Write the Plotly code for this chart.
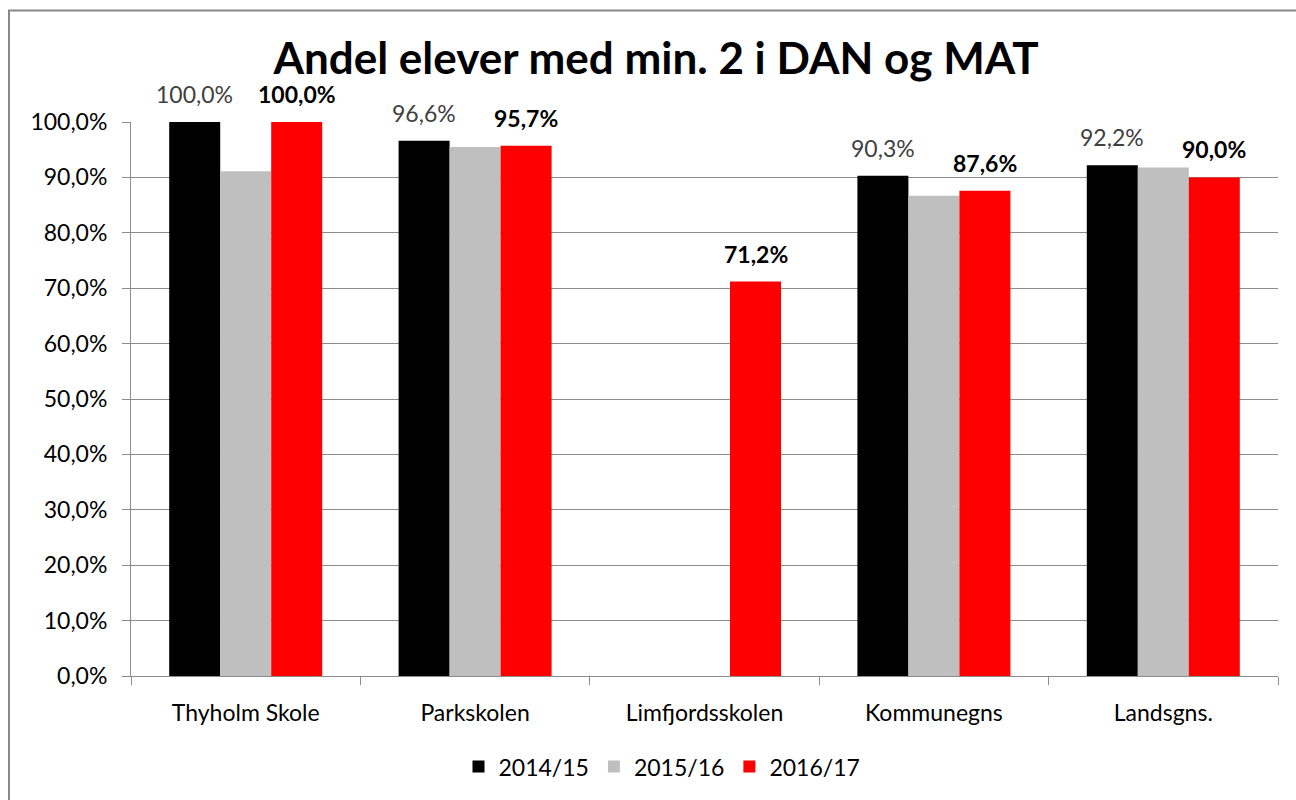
import plotly.graph_objects as go

categories = ["Thyholm Skole", "Parkskolen", "Limfjordsskolen", "Kommunegns", "Landsgns."]
series_names = ["2014/15", "2015/16", "2016/17"]
v_2014 = [100.0, 96.6, None, 90.3, 92.2]
v_2015 = [91.1, 95.5, None, 86.7, 91.8]
v_2016 = [100.0, 95.7, 71.2, 87.6, 90.0]
colors = ["#000000", "#BFBFBF", "#FF0000"]
y_ticks = [0, 10, 20, 30, 40, 50, 60, 70, 80, 90, 100]

FONT = "Lato"

def fmt(v):
    return f"{v:.1f}".replace(".", ",") + "%"

W, H = 1296, 800
L, R, T, B = 131, 18, 122, 122
pw, ph = W - L - R, H - T - B
BARGAP = 0.333
bar_px = pw / len(categories) * (1 - BARGAP) / 3

def px(x):
    return (x - L) / pw

def py(y):
    return (H - B - y) / ph

fig = go.Figure()
for name, vals, col in zip(series_names, [v_2014, v_2015, v_2016], colors):
    fig.add_bar(x=categories, y=vals, name=name, marker_color=col, marker_line_width=0)

annotations = []
label_series = [(0, v_2014, "#404040", False), (2, v_2016, "#000000", True)]
for idx, vals, col, bold in label_series:
    for cat, v in zip(categories, vals):
        if v is None:
            continue
        txt = f"<b>{fmt(v)}</b>" if bold else fmt(v)
        annotations.append(dict(x=cat, y=v, xref="x", yref="y", text=txt, showarrow=False,
                                xanchor="center", yanchor="bottom",
                                xshift=(idx - 1) * bar_px, yshift=12,
                                font=dict(family=FONT, size=23, color=col)))

fig.update_layout(
    width=W, height=H,
    margin=dict(l=L, r=R, t=T, b=B),
    paper_bgcolor="white", plot_bgcolor="white",
    separators=",.",
    barmode="group", bargap=BARGAP, bargroupgap=0,
    font=dict(family=FONT, size=23, color="#000000"),
    title=dict(text="<b>Andel elever med min. 2 i DAN og MAT</b>",
               x=656 / W, xanchor="center", xref="container",
               y=1 - 59 / H, yanchor="middle", yref="container",
               font=dict(family=FONT, size=44, color="#000000")),
    legend=dict(orientation="h", x=(662 - L) / pw, xanchor="center", xref="paper",
                y=py(769), yanchor="middle", font=dict(family=FONT, size=23, color="#000000"),
                itemwidth=30, traceorder="normal"),
    annotations=annotations,
    shapes=[dict(type="rect", xref="paper", yref="paper",
                 x0=px(9), x1=px(1320), y0=py(10), y1=py(830),
                 line=dict(color="#888888", width=2), layer="below")],
)
fig.update_yaxes(range=[0, 100], tickvals=y_ticks, ticktext=[fmt(t) for t in y_ticks],
                 showgrid=True, gridcolor="#8c8c8c", gridwidth=1,
                 showline=True, linecolor="#8c8c8c", linewidth=1,
                 ticks="outside", ticklen=8, tickcolor="#8c8c8c", ticklabelstandoff=10,
                 tickfont=dict(family=FONT, size=23, color="#000000"), zeroline=False)
fig.update_xaxes(showline=True, linecolor="#8c8c8c", linewidth=1,
                 ticks="outside", tickson="boundaries", ticklen=8, tickcolor="#8c8c8c",
                 ticklabelstandoff=16,
                 tickfont=dict(family=FONT, size=23, color="#000000"))

fig.write_html("out.html", config={"displayModeBar": False},
               post_script="document.body.style.margin='0';")
